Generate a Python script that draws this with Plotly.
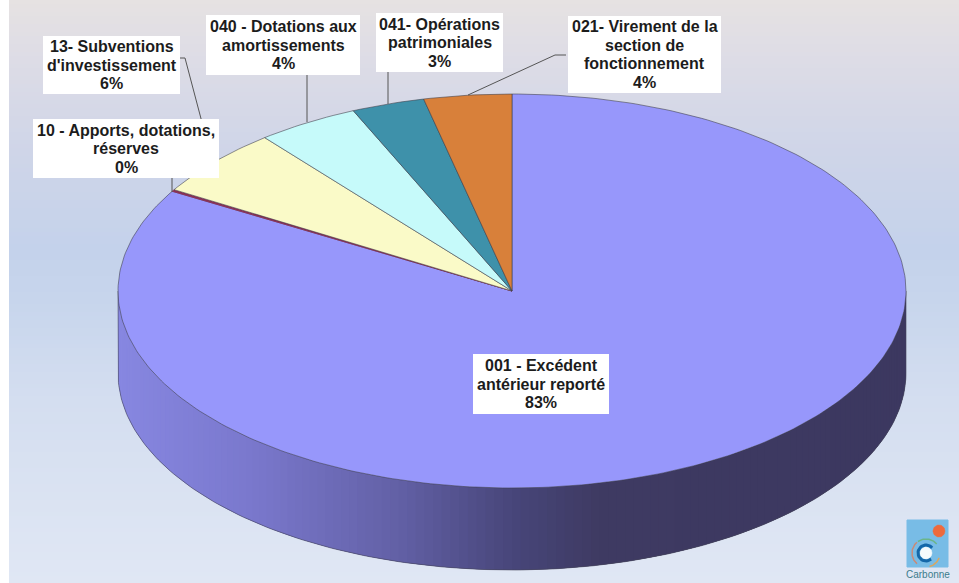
import numpy as np
import plotly.graph_objects as go

# --- data ---
categories = ["001 - Excédent<br>antérieur reporté", "10 - Apports, dotations,<br>réserves",
              "13- Subventions<br>d'investissement", "040 - Dotations aux<br>amortissements",
              "041- Opérations<br>patrimoniales", "021- Virement de la<br>section de<br>fonctionnement"]
values = [83.45, 0.15, 5.6, 4.2, 3.0, 3.6]
shown_pct = ["83%", "0%", "6%", "4%", "3%", "4%"]
colors = ["#9797FB", "#8A2F55", "#FAFAC8", "#C6FAFA", "#3E91AA", "#D8803A"]

# label boxes: left, right, top, bottom
boxes = [(473, 609, 354, 414), (33, 219, 119, 178), (43, 180, 36, 94),
         (206, 360, 15, 75), (376, 503, 13, 72), (568, 721, 16, 93)]
# leader lines
leaders = [None,
           ([172, 172], [178, 192]),
           ([180, 185, 204], [58, 58, 130]),
           ([307, 307], [75, 122]),
           ([388, 388], [72, 104]),
           ([566, 555, 468], [55, 55, 95])]

W, H = 959, 583
CX, CY, RX, RY, DEPTH = 512, 291, 394, 197, 82
LINE_STEP = 18.5

bg_stops = [(0, (230, 226, 226)), (60, (221, 220, 230)), (150, (207, 213, 232)),
            (250, (196, 210, 235)), (300, (199, 213, 236)), (400, (212, 222, 240)),
            (583, (224, 231, 244))]
side_stops = [(118, (135, 135, 225)), (250, (122, 120, 205)), (400, (98, 96, 165)),
              (512, (72, 70, 122)), (600, (62, 58, 98)), (905, (60, 56, 96))]


def lerp(stops, v):
    xs = [s[0] for s in stops]
    return [float(np.interp(v, xs, [s[1][i] for s in stops])) for i in range(3)]


def rgb(c):
    return "rgb(%d,%d,%d)" % tuple(round(k) for k in c)


fig = go.Figure()

# background band
ys = np.arange(0, H + 4, 4)
bg_scale = [[s[0] / H, rgb(s[1])] for s in bg_stops]
fig.add_trace(go.Heatmap(x=[9, W], y=ys, z=[[float(min(y, H))] for y in ys[:-1] + 2], zmin=0, zmax=H,
                         colorscale=bg_scale, showscale=False, hoverinfo="skip"))

# side wall of the disc: each strip overlaps the next so no seams show
ts = np.linspace(np.pi, 0, 141)
step = ts[1] - ts[0]
for a, b in zip(ts[:-1], ts[1:]):
    t = np.linspace(a, max(b + 2 * step, 0), 5)
    x = CX + RX * np.cos(t)
    top = CY + RY * np.sin(t)
    col = rgb(lerp(side_stops, CX + RX * np.cos((a + b) / 2)))
    fig.add_trace(go.Scatter(x=list(x) + list(x[::-1]),
                             y=list(top) + list((top + DEPTH)[::-1]),
                             mode="lines", fill="toself", fillcolor=col,
                             line=dict(color=col, width=0), hoverinfo="skip", showlegend=False))

# outer outline of wall
t = np.linspace(np.pi, 0, 200)
fig.add_trace(go.Scatter(x=[CX - RX] + list(CX + RX * np.cos(t)) + [CX + RX],
                         y=[CY] + list(CY + RY * np.sin(t) + DEPTH) + [CY],
                         mode="lines", line=dict(color="rgba(70,70,90,0.6)", width=1),
                         hoverinfo="skip", showlegend=False))

# top slices, clockwise from 12 o'clock
cum = np.cumsum([0] + values) / sum(values) * 2 * np.pi
for i, col in enumerate(colors):
    n = max(3, int((cum[i + 1] - cum[i]) * 60))
    a = np.linspace(cum[i], cum[i + 1], n)
    x = [CX] + list(CX + RX * np.sin(a)) + [CX]
    y = [CY] + list(CY - RY * np.cos(a)) + [CY]
    fig.add_trace(go.Scatter(x=x, y=y, mode="lines", fill="toself", fillcolor=col,
                             line=dict(color="rgba(60,60,70,0.7)" if i != 1 else col, width=0.8),
                             hoverinfo="skip", showlegend=False))

# leader lines
for lead in leaders:
    if lead:
        fig.add_trace(go.Scatter(x=lead[0], y=lead[1], mode="lines",
                                 line=dict(color="#555555", width=1),
                                 hoverinfo="skip", showlegend=False))

# labels: white box, then one annotation per text line
shapes = []
annotations = []
for cat, pct, (l, r, t_, b) in zip(categories, shown_pct, boxes):
    shapes.append(dict(type="rect", xref="x", yref="y", x0=l, x1=r, y0=t_, y1=b,
                       fillcolor="white", line=dict(width=0), layer="above"))
    lines = cat.split("<br>") + [pct]
    mid = (t_ + b) / 2
    for k, line in enumerate(lines):
        annotations.append(dict(x=(l + r) / 2, y=mid + (k - (len(lines) - 1) / 2) * LINE_STEP,
                                xref="x", yref="y", text="<b>%s</b>" % line, showarrow=False,
                                xanchor="center", yanchor="middle", align="center",
                                font=dict(family="Liberation Sans", size=16, color="#1c1c1c")))

# logo
logo_rect = dict(x=[907, 948, 948, 907, 907], y=[520, 520, 567, 567, 520])
fig.add_trace(go.Scatter(**logo_rect, mode="lines", fill="toself", fillcolor="#78BCE6",
                         line=dict(color="#78BCE6", width=1), hoverinfo="skip", showlegend=False))


def arc(cx, cy, r, a0, a1, color, width):
    a = np.radians(np.linspace(a0, a1, 30))
    fig.add_trace(go.Scatter(x=cx + r * np.cos(a), y=cy + r * np.sin(a), mode="lines",
                             line=dict(color=color, width=width), hoverinfo="skip", showlegend=False))


def disc(cx, cy, r, color):
    a = np.radians(np.linspace(0, 360, 40))
    fig.add_trace(go.Scatter(x=cx + r * np.cos(a), y=cy + r * np.sin(a), mode="lines", fill="toself",
                             fillcolor=color, line=dict(color=color, width=0.5),
                             hoverinfo="skip", showlegend=False))


disc(939, 531, 6, "#EE6A3C")
disc(926, 553, 6, "#F4FAFC")
arc(926, 553, 8, 50, 320, "#1467A8", 3)
arc(926, 553, 14, 130, 230, "#C98B78", 1.5)
arc(926, 553, 14, 235, 320, "#6BB58A", 1.5)
arc(926, 553, 14, 20, 75, "#D9A760", 1.5)

annotations.append(dict(x=927.5, y=574, xref="x", yref="y", text="Carbonne", showarrow=False,
                        xanchor="center", yanchor="middle",
                        font=dict(family="Liberation Sans", size=10, color="#3C7C8C")))

fig.update_layout(width=W, height=H, margin=dict(l=0, r=0, t=0, b=0),
                  paper_bgcolor="white", plot_bgcolor="white", showlegend=False,
                  xaxis=dict(range=[0, W], visible=False, fixedrange=True),
                  yaxis=dict(range=[H, 0], visible=False, fixedrange=True),
                  shapes=shapes, annotations=annotations)
fig.write_html("out.html", config=dict(displayModeBar=False),
               post_script="document.body.style.margin='0';document.documentElement.style.overflow='hidden';")
